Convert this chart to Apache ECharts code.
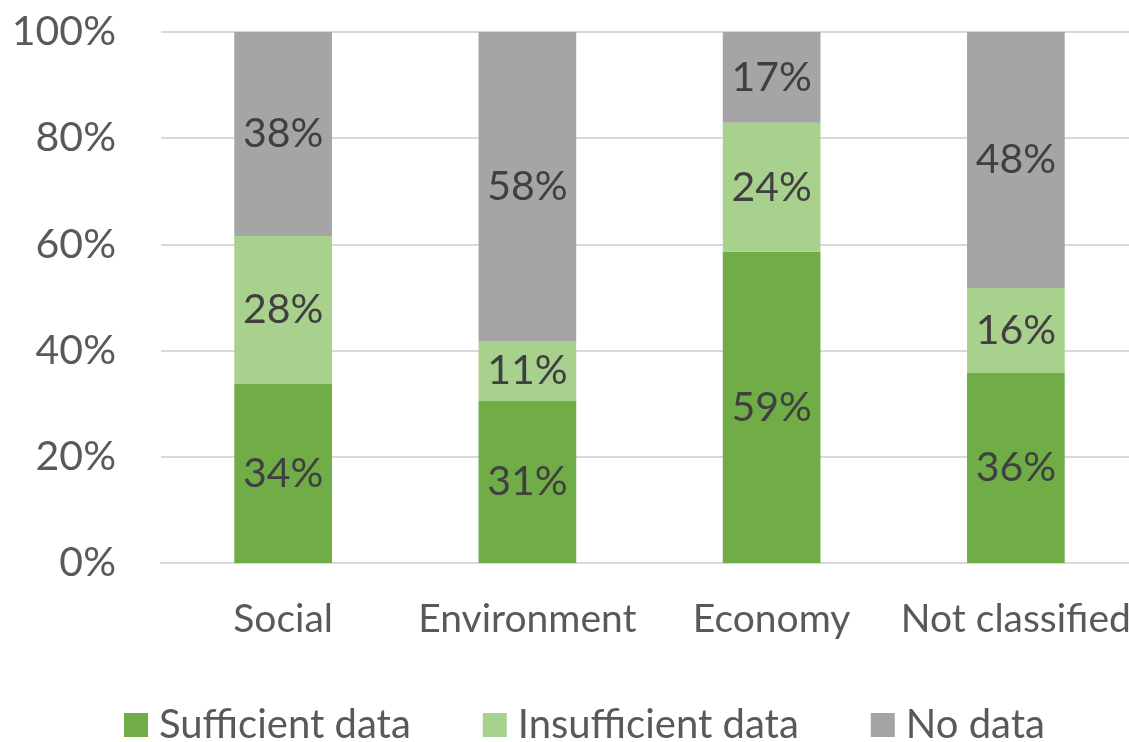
<!DOCTYPE html>
<html><head><meta charset="utf-8">
<script src="https://cdn.jsdelivr.net/npm/echarts@6/dist/echarts.min.js"></script>
<style>html,body{margin:0;padding:0;background:#fff}#c{width:1129px;height:742px}</style>
</head><body><div id="c"></div>
<script>
const categories = ['Social', 'Environment', 'Economy', 'Not classified'];
const sufficient = [33.7, 30.5, 58.6, 35.8];
const insufficient = [27.9, 11.3, 24.3, 16.0];
const noData = [38.4, 58.2, 17.1, 48.2];
const seriesNames = ['Sufficient data', 'Insufficient data', 'No data'];
const colors = ['#70AD47', '#A9D18E', '#A5A5A5'];
const FONT = 'Lato';

const chart = echarts.init(document.getElementById('c'));
function mk(name, data, color) {
  return {
    name, type: 'bar', stack: 'total', data, barWidth: '40%',
    itemStyle: { color },
    label: {
      show: true, position: 'inside', color: '#404040',
      fontFamily: FONT, fontSize: 41,
      formatter: p => Math.round(p.value) + '%'
    }
  };
}
chart.setOption({
  animation: false,
  textStyle: { fontFamily: FONT },
  grid: { left: 161, width: 977, top: 32, height: 531, outerBoundsMode: 'none', containLabel: false },
  legend: {
    top: 700, left: 119, itemWidth: 24, itemHeight: 24, itemGap: 72,
    icon: 'rect',
    textStyle: { fontFamily: FONT, fontSize: 40, color: '#595959', padding: [0, 0, 0, 6] },
    data: seriesNames
  },
  xAxis: {
    type: 'category', data: categories,
    axisLine: { lineStyle: { color: '#D9D9D9', width: 2 } },
    axisTick: { show: false },
    axisLabel: { fontFamily: FONT, fontSize: 39, color: '#595959', margin: 37, interval: 0 }
  },
  yAxis: {
    type: 'value', min: 0, max: 100, interval: 20,
    axisLine: { show: false }, axisTick: { show: false },
    splitLine: { lineStyle: { color: '#D9D9D9', width: 2 } },
    axisLabel: { fontFamily: FONT, fontSize: 41, color: '#595959', margin: 45, formatter: v => v + '%' }
  },
  series: [
    mk(seriesNames[0], sufficient, colors[0]),
    mk(seriesNames[1], insufficient, colors[1]),
    mk(seriesNames[2], noData, colors[2])
  ]
});
</script></body></html>
